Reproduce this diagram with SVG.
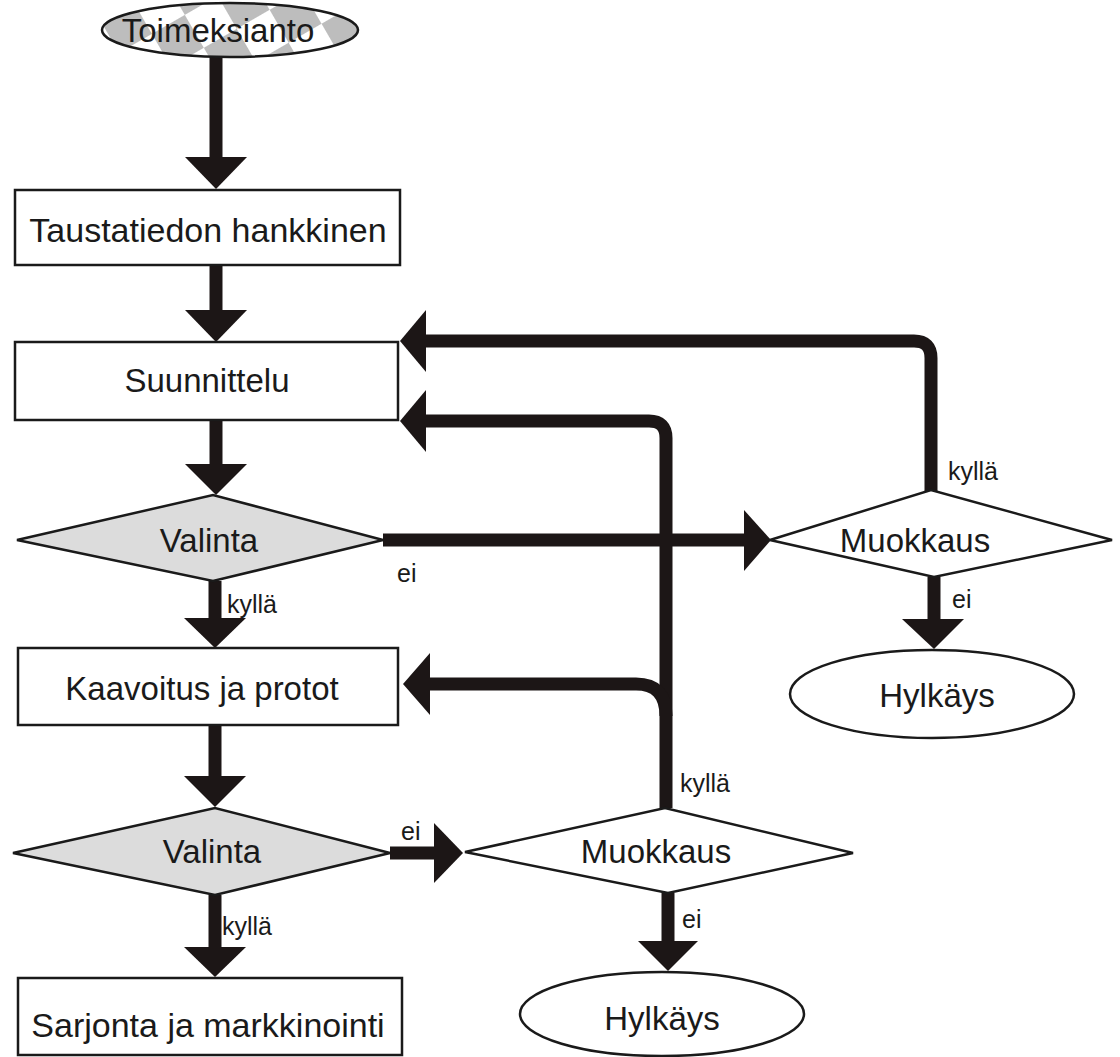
<svg xmlns="http://www.w3.org/2000/svg" width="1120" height="1057" viewBox="0 0 1120 1057">
<style>
.box{fill:#fff;stroke:#1a1a1a;stroke-width:2.5}
.dec{fill:#dcdcdc;stroke:#1a1a1a;stroke-width:2.5}
.mod{fill:#fff;stroke:#1a1a1a;stroke-width:2.5}
.t{font-family:"Liberation Sans",Arial,sans-serif;font-size:33px;fill:#1a1a1a;text-anchor:middle}
.l{font-family:"Liberation Sans",Arial,sans-serif;font-size:25px;fill:#1a1a1a}
.sh{fill:none;stroke:#1c1616;stroke-width:13}
.hd{fill:#1c1616}
</style>
<defs>
<pattern id="chk" width="76" height="76" patternUnits="userSpaceOnUse" patternTransform="translate(100 20) rotate(-30)">
<rect width="76" height="76" fill="#fff"/>
<rect width="38" height="38" fill="#bdbdbd"/>
<rect x="38" y="38" width="38" height="38" fill="#bdbdbd"/>
</pattern>
</defs>
<g id="connectors">
<path class="sh" d="M216 57V160"/>
<polygon class="hd" points="185,157 247,157 216,189"/>
<path class="sh" d="M216 265V312"/>
<polygon class="hd" points="185,310 247,310 216,342"/>
<path class="sh" d="M216 420V466"/>
<polygon class="hd" points="185,464 247,464 216,495"/>
<path class="sh" d="M215 581V620"/>
<polygon class="hd" points="184,618 246,618 215,648"/>
<path class="sh" d="M215 725V778"/>
<polygon class="hd" points="184,776 246,776 215,807"/>
<path class="sh" d="M215 895V950"/>
<polygon class="hd" points="184,947 246,947 215,977"/>
<path class="sh" d="M934 577V622"/>
<polygon class="hd" points="902,619 964,619 934,649"/>
<path class="sh" d="M668 893V943"/>
<polygon class="hd" points="638,941 698,941 668,971"/>
<path class="sh" d="M383 540H748"/>
<polygon class="hd" points="744,510 771,540 744,571"/>
<path class="sh" d="M390 853H438"/>
<polygon class="hd" points="434,823 463,853 434,883"/>
<path class="sh" d="M931 491V358Q931 341 914 341H420"/>
<polygon class="hd" points="426,310 400,341 426,372"/>
<path class="sh" d="M666 808V438Q666 421 649 421H420"/>
<polygon class="hd" points="426,390 400,421 426,452"/>
<path class="sh" d="M666 716Q666 684 636 684H426"/>
<polygon class="hd" points="430,653 403,684 430,715"/>
</g>
<g id="toimeksianto">
<ellipse cx="230" cy="30" rx="128" ry="27" fill="url(#chk)" stroke="#1a1a1a" stroke-width="2.5"/>
<text class="t" x="218" y="42">Toimeksianto</text>
</g>
<g id="taustatiedon">
<rect class="box" x="15" y="190" width="385" height="75"/>
<text class="t" x="208" y="242" style="font-size:34px">Taustatiedon hankkinen</text>
</g>
<g id="suunnittelu">
<rect class="box" x="15" y="342" width="383" height="78"/>
<text class="t" x="207" y="392">Suunnittelu</text>
</g>
<g id="valinta1">
<polygon class="dec" points="17,540 213,495 383,540 213,581"/>
<text class="t" x="209" y="552">Valinta</text>
</g>
<g id="muokkaus1">
<polygon class="mod" points="770,540 931,490 1112,540 934,577"/>
<text class="t" x="915" y="552">Muokkaus</text>
</g>
<g id="hylkays1">
<ellipse class="box" cx="932" cy="694" rx="142" ry="44"/>
<text class="t" x="937" y="707">Hylkäys</text>
</g>
<g id="kaavoitus">
<rect class="box" x="18" y="648" width="380" height="77"/>
<text class="t" x="202" y="700">Kaavoitus ja protot</text>
</g>
<g id="valinta2">
<polygon class="dec" points="13,853 215,808 390,853 215,895"/>
<text class="t" x="212" y="863">Valinta</text>
</g>
<g id="muokkaus2">
<polygon class="mod" points="465,852 665,808 853,853 668,893"/>
<text class="t" x="656" y="863">Muokkaus</text>
</g>
<g id="hylkays2">
<ellipse class="box" cx="662" cy="1014" rx="142" ry="42"/>
<text class="t" x="662" y="1030">Hylkäys</text>
</g>
<g id="sarjonta">
<rect class="box" x="18" y="978" width="384" height="77"/>
<text class="t" x="208" y="1037" style="font-size:34px">Sarjonta ja markkinointi</text>
</g>
<g id="labels">
<text class="l" x="948" y="480">kyllä</text>
<text class="l" x="397" y="582">ei</text>
<text class="l" x="952" y="608">ei</text>
<text class="l" x="227" y="613">kyllä</text>
<text class="l" x="680" y="792">kyllä</text>
<text class="l" x="401" y="840">ei</text>
<text class="l" x="682" y="928">ei</text>
<text class="l" x="222" y="935">kyllä</text>
</g>
</svg>
